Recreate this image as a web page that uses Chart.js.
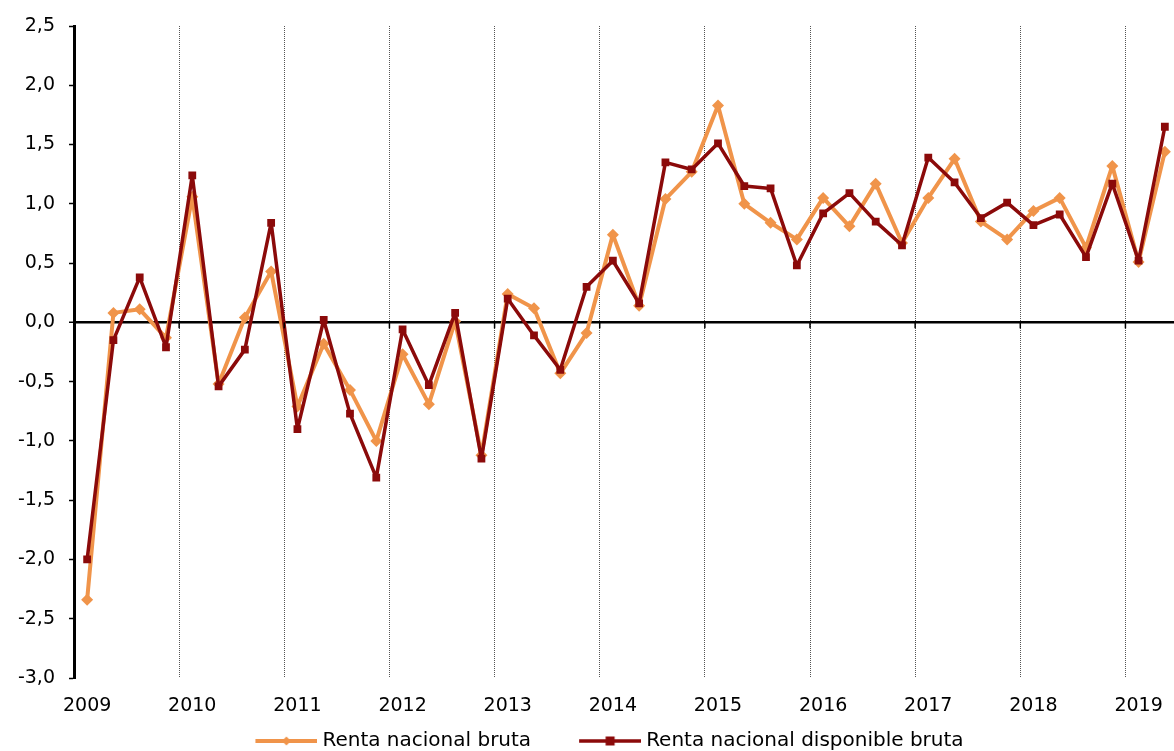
<!DOCTYPE html>
<html>
<head>
<meta charset="utf-8">
<script src="https://cdn.jsdelivr.net/npm/chart.js"></script>
<style>
  html, body { margin: 0; padding: 0; background: #fff; overflow: hidden; }
  #wrap { width: 1184px; height: 761px; }
</style>
</head>
<body>
<div id="wrap"><canvas id="myChart" width="1184" height="761"></canvas></div>
<script>
// years on the axis, quarterly points (2009 T1 .. 2019 T2)
const years = [2009, 2010, 2011, 2012, 2013, 2014, 2015, 2016, 2017, 2018, 2019];
const quarters = ["T1", "T2", "T3", "T4"];
const pointCount = 42;

// Renta nacional bruta
const rentaBruta = [
  -2.34, 0.08, 0.11, -0.13,
  1.06, -0.52, 0.04, 0.43,
  -0.71, -0.18, -0.57, -1.00,
  -0.27, -0.69, 0.01, -1.12,
  0.24, 0.12, -0.43, -0.09,
  0.74, 0.14, 1.04, 1.27,
  1.83, 1.00, 0.84, 0.70,
  1.05, 0.81, 1.17, 0.67,
  1.05, 1.38, 0.85, 0.70,
  0.94, 1.05, 0.63, 1.32,
  0.51, 1.44
];

// Renta nacional disponible bruta
const rentaDisponible = [
  -2.00, -0.15, 0.38, -0.21,
  1.24, -0.54, -0.23, 0.84,
  -0.90, 0.02, -0.77, -1.31,
  -0.06, -0.53, 0.08, -1.15,
  0.20, -0.11, -0.40, 0.30,
  0.52, 0.16, 1.35, 1.29,
  1.51, 1.15, 1.13, 0.48,
  0.92, 1.09, 0.85, 0.65,
  1.39, 1.18, 0.88, 1.01,
  0.82, 0.91, 0.55, 1.17,
  0.52, 1.65
];

const seriesNames = ["Renta nacional bruta", "Renta nacional disponible bruta"];

const orange = "#F0944A";
const darkRed = "#8B0A0A";

let labels = [];
for (let y of years) {
    for (let q of quarters) {
        if (labels.length < pointCount) labels.push(y + " " + q);
    }
}

// little line + marker picture for the legend
function legendPic(color, width, style) {
    let c = document.createElement("canvas");
    c.width = 105;
    c.height = 14;
    let g = c.getContext("2d");
    g.strokeStyle = color;
    g.fillStyle = color;
    g.lineWidth = width;
    g.beginPath();
    g.moveTo(43, 7);
    g.lineTo(105, 7);
    g.stroke();
    if (style == "diamond") {
        g.beginPath();
        g.moveTo(74, 2.5);
        g.lineTo(78.5, 7);
        g.lineTo(74, 11.5);
        g.lineTo(69.5, 7);
        g.closePath();
        g.fill();
    } else {
        g.fillRect(69.5, 2.5, 9, 9);
    }
    return c;
}
const legendPics = [legendPic(orange, 4, "diamond"), legendPic(darkRed, 3.5, "square")];

// small marks under the zero line at each year boundary
const zeroTicks = {
    id: "zeroTicks",
    afterDatasetsDraw: function(chart) {
        let xs = chart.scales.x, ys = chart.scales.y;
        let g = chart.ctx;
        let y0 = ys.getPixelForValue(0);
        g.save();
        g.strokeStyle = "#000";
        g.lineWidth = 1.5;
        for (let i = 4; i < pointCount; i += 4) {
            let x = (xs.getPixelForValue(i - 1) + xs.getPixelForValue(i)) / 2;
            g.beginPath();
            g.moveTo(x, y0);
            g.lineTo(x, y0 + 6);
            g.stroke();
        }
        g.restore();
    }
};

const ctx = document.getElementById("myChart");

new Chart(ctx, {
  type: "line",
  data: {
    labels: labels,
    datasets: [{
      label: seriesNames[0],
      data: rentaBruta,
      borderColor: orange,
      backgroundColor: orange,
      borderWidth: 4,
      borderJoinStyle: "round",
      pointStyle: "rectRot",
      pointRadius: 6,
      pointBorderWidth: 0,
      pointBackgroundColor: orange,
      tension: 0,
      order: 2
    }, {
      label: seriesNames[1],
      data: rentaDisponible,
      borderColor: darkRed,
      backgroundColor: darkRed,
      borderWidth: 3.5,
      borderJoinStyle: "round",
      pointStyle: "rect",
      pointRadius: 5.5,
      pointBorderWidth: 0,
      pointBackgroundColor: darkRed,
      tension: 0,
      order: 1
    }]
  },
  options: {
    responsive: false,
    animation: false,
    devicePixelRatio: 1,
    layout: { padding: { top: 26, left: 0, right: 3, bottom: 0 } },
    plugins: {
      tooltip: { enabled: false },
      legend: {
        position: "bottom",
        labels: {
          color: "#000",
          font: { family: "DejaVu Sans", size: 20 },
          usePointStyle: true,
          pointStyleWidth: 95,
          padding: 10,
          generateLabels: function(chart) {
            return chart.data.datasets.map(function(ds, i) {
              return {
                text: ds.label,
                pointStyle: legendPics[i],
                fillStyle: ds.borderColor,
                strokeStyle: ds.borderColor,
                lineWidth: 0,
                hidden: false,
                datasetIndex: i
              };
            });
          }
        }
      }
    },
    scales: {
      x: {
        offset: true,
        afterFit: function(s) { s.height = 43; },
        border: { display: false, dash: [1, 1] },
        grid: {
          offset: true,
          drawTicks: false,
          lineWidth: 1,
          color: function(c) {
            return (c.index > 0 && c.index % 4 == 0) ? "#555" : "transparent";
          }
        },
        ticks: {
          autoSkip: false,
          maxRotation: 0,
          padding: 17,
          color: "#000",
          font: { family: "DejaVu Sans", size: 19 },
          callback: function(v, i) {
            return i % 4 == 0 ? String(years[i / 4]) : "";
          }
        }
      },
      y: {
        min: -3,
        max: 2.5,
        afterFit: function(s) { s.width = 74; },
        border: { display: true, color: "#000", width: 3 },
        grid: {
          drawTicks: true,
          tickLength: 5,
          tickColor: "#000",
          tickWidth: 1.5,
          lineWidth: function(c) { return c.tick && c.tick.value == 0 ? 2.5 : 1; },
          color: function(c) {
            return c.tick && c.tick.value == 0 ? "#000" : "transparent";
          }
        },
        ticks: {
          stepSize: 0.5,
          padding: 14,
          color: "#000",
          font: { family: "DejaVu Sans", size: 19 },
          callback: function(v) { return v.toFixed(1).replace(".", ","); }
        }
      }
    }
  },
  plugins: [zeroTicks]
});
</script>
</body>
</html>
